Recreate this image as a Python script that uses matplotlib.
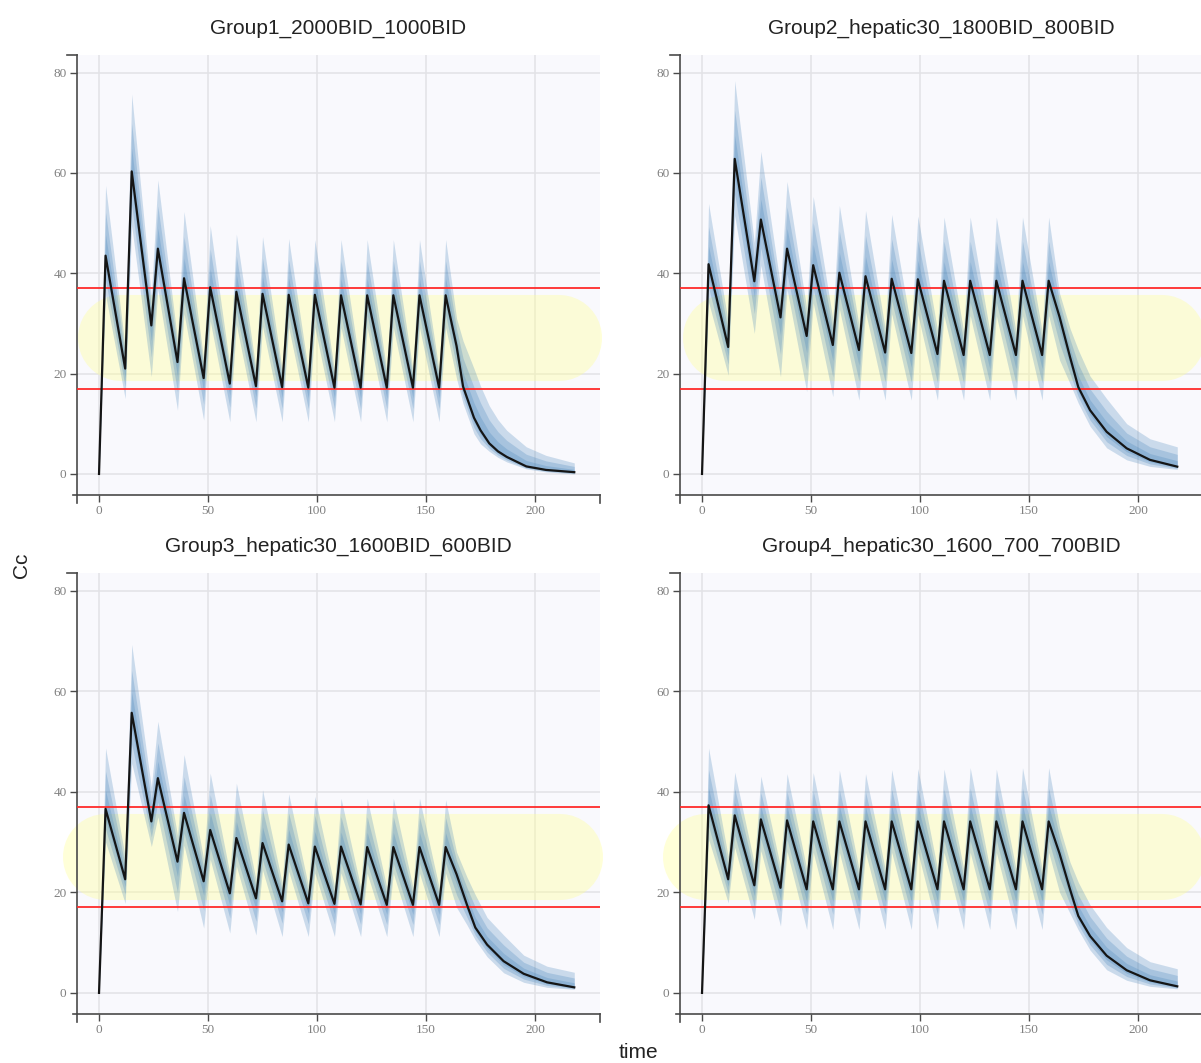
import numpy as np
import matplotlib.pyplot as plt

titles = ["Group1_2000BID_1000BID", "Group2_hepatic30_1800BID_800BID",
          "Group3_hepatic30_1600BID_600BID", "Group4_hepatic30_1600_700_700BID"]

dose_times = [0, 12, 24, 36, 48, 60, 72, 84, 96, 108, 120, 132, 144, 156]
tmax = 3

# median concentration at each peak (dose + tmax) and at each trough (next dose)
g1_peaks = [43.5, 60.3, 44.9, 39.0, 37.2, 36.3, 35.9, 35.7, 35.7, 35.6, 35.6, 35.6, 35.6, 35.6]
g1_troughs = [21.0, 29.6, 22.3, 19.1, 18.0, 17.5, 17.3, 17.2, 17.2, 17.2, 17.2, 17.2, 17.2]
g1_peak_hi = [57.5, 75.7, 58.6, 52.3, 49.5, 47.8, 47.3, 46.9, 46.7, 46.7, 46.7, 46.7, 46.7, 46.7]
g1_trough_lo = [15.0, 19.4, 12.7, 10.7, 10.4, 10.4, 10.4, 10.4, 10.4, 10.4, 10.4, 10.4, 10.4]
g1_tail_t = [164, 167, 172, 175, 179, 183, 187, 196, 205, 218]
g1_tail_med = [25.5, 17.4, 11.2, 8.7, 6.1, 4.5, 3.4, 1.5, 0.8, 0.35]
g1_tail_hi = [31.0, 26.5, 21.0, 17.5, 13.6, 10.8, 8.7, 5.4, 3.7, 2.2]
g1_tail_lo = [19.0, 14.0, 8.0, 6.0, 4.5, 3.3, 2.4, 1.0, 0.4, 0.0]

g2_peaks = [41.8, 62.8, 50.7, 44.9, 41.6, 40.1, 39.4, 38.9, 38.8, 38.5, 38.5, 38.5, 38.5, 38.5]
g2_troughs = [25.3, 38.4, 31.2, 27.5, 25.7, 24.7, 24.2, 24.1, 23.9, 23.7, 23.7, 23.7, 23.7]
g2_peak_hi = [53.9, 78.4, 64.3, 58.3, 55.3, 53.5, 52.5, 51.7, 51.4, 51.2, 51.2, 51.2, 51.2, 51.2]
g2_trough_lo = [19.7, 28.0, 19.4, 16.4, 15.4, 14.7, 14.7, 14.7, 14.7, 14.7, 14.7, 14.7, 14.7]
g2_tail_t = [164, 168.8, 172.6, 178, 185.6, 194.8, 205.5, 218]
g2_tail_med = [31.3, 23.3, 17.3, 12.7, 8.4, 5.1, 2.8, 1.45]
g2_tail_hi = [36.0, 29.0, 24.7, 19.5, 15.0, 10.0, 7.0, 5.4]
g2_tail_lo = [22.7, 18.0, 14.1, 9.5, 5.2, 2.8, 1.5, 0.9]

g3_peaks = [36.6, 55.7, 42.7, 35.8, 32.4, 30.8, 29.8, 29.5, 29.1, 29.1, 29.0, 29.0, 29.0, 29.0]
g3_troughs = [22.6, 34.1, 26.1, 22.2, 19.8, 18.8, 18.2, 17.8, 17.7, 17.6, 17.5, 17.5, 17.5]
g3_peak_hi = [48.7, 69.3, 54.0, 47.4, 43.7, 41.7, 40.4, 39.6, 39.1, 38.7, 38.7, 38.7, 38.7, 38.4]
g3_trough_lo = [17.8, 29.1, 16.2, 12.9, 11.9, 11.5, 11.2, 11.2, 11.2, 11.2, 11.2, 11.2, 11.2]
g3_tail_t = [164, 168.8, 172.6, 178, 185.6, 194.8, 205.5, 218]
g3_tail_med = [23.6, 17.5, 13.0, 9.6, 6.3, 3.8, 2.1, 1.1]
g3_tail_hi = [28.0, 23.0, 19.5, 15.0, 11.5, 7.5, 5.3, 4.1]
g3_tail_lo = [17.0, 13.5, 10.5, 7.2, 4.0, 2.1, 1.1, 0.7]

g4_peaks = [37.3, 35.3, 34.5, 34.3, 34.1, 34.1, 34.1, 34.1, 34.1, 34.1, 34.1, 34.1, 34.1, 34.1]
g4_troughs = [22.6, 21.4, 20.9, 20.6, 20.6, 20.6, 20.6, 20.6, 20.6, 20.6, 20.6, 20.6, 20.6]
g4_peak_hi = [48.7, 43.9, 43.1, 43.6, 43.8, 44.3, 43.6, 44.4, 44.6, 44.5, 44.8, 44.5, 44.8, 44.8]
g4_trough_lo = [17.9, 14.6, 13.3, 12.6, 12.6, 12.6, 12.6, 12.6, 12.6, 12.6, 12.6, 12.6, 12.6]
g4_tail_t = [164, 168.8, 172.6, 178, 185.6, 194.8, 205.5, 218]
g4_tail_med = [27.7, 20.6, 15.3, 11.3, 7.4, 4.5, 2.5, 1.3]
g4_tail_hi = [33.0, 26.0, 22.0, 17.5, 13.0, 9.0, 6.2, 4.8]
g4_tail_lo = [20.0, 15.8, 12.5, 8.5, 4.6, 2.5, 1.3, 0.8]

target_lo, target_hi = 17, 37
target_mid = 27
# where the yellow target strip starts / ends (time units)
strip_start = [10, 11, 3, 2]
strip_end = [211, 211, 211.5, 211]

groups = [
    (g1_peaks, g1_troughs, g1_peak_hi, g1_trough_lo, g1_tail_t, g1_tail_med, g1_tail_hi, g1_tail_lo),
    (g2_peaks, g2_troughs, g2_peak_hi, g2_trough_lo, g2_tail_t, g2_tail_med, g2_tail_hi, g2_tail_lo),
    (g3_peaks, g3_troughs, g3_peak_hi, g3_trough_lo, g3_tail_t, g3_tail_med, g3_tail_hi, g3_tail_lo),
    (g4_peaks, g4_troughs, g4_peak_hi, g4_trough_lo, g4_tail_t, g4_tail_med, g4_tail_hi, g4_tail_lo),
]


def build_profile(peaks, troughs, peak_hi, trough_lo, tail_t, tail_med, tail_hi, tail_lo):
    t, med, hi, lo = [0.0], [0.0], [0.0], [0.0]
    for i, d in enumerate(dose_times):
        t.append(d + tmax)
        med.append(peaks[i])
        hi.append(peak_hi[i])
        lo.append(peaks[i] * 0.82)
        if i < len(troughs):
            t.append(dose_times[i + 1])
            med.append(troughs[i])
            hi.append(troughs[i] * 1.2)
            lo.append(trough_lo[i])
    t += tail_t
    med += tail_med
    hi += tail_hi
    lo += tail_lo
    return np.array(t), np.array(med), np.array(hi), np.array(lo)


W, H = 1201, 1063
fig = plt.figure(figsize=(W / 100, H / 100), dpi=100)
boxes = [(77, 55, 523, 440), (680, 55, 523, 440), (77, 573, 523, 441), (680, 573, 523, 441)]
band_color = (0.25, 0.5, 0.72)
spine_color = "#4a4a4a"

for k, (x, y, w, h) in enumerate(boxes):
    ax = fig.add_axes([x / W, 1 - (y + h) / H, w / W, h / H])
    ax.set_facecolor("#f9f9fd")
    ax.set_xlim(-10.1, 229.8)
    ax.set_ylim(-4.2, 83.5)
    ax.set_xticks([0, 50, 100, 150, 200])
    ax.set_yticks([0, 20, 40, 60, 80])
    ax.grid(color="#e2e2e6", lw=1.1)
    ax.set_axisbelow(True)
    for s in ["top", "right"]:
        ax.spines[s].set_visible(False)
    for s in ["left", "bottom"]:
        ax.spines[s].set_color(spine_color)
        ax.spines[s].set_linewidth(1.2)
    ax.tick_params(direction="out", length=5, width=1, color=spine_color,
                   labelcolor="#808080", labelsize=9.5, pad=2.5)
    for lab in ax.get_xticklabels() + ax.get_yticklabels():
        lab.set_family("Liberation Serif")
    # spine end marks
    kw = dict(transform=ax.transAxes, color=spine_color, lw=1.2, clip_on=False)
    ax.plot([-10 / w, 0], [1, 1], **kw)
    ax.plot([0, 0], [-8 / h, 0], **kw)
    ax.plot([-4 / w, 0], [0, 0], **kw)
    ax.plot([1, 1], [-8 / h, 0], **kw)

    # target strip and limits
    ax.plot([strip_start[k], strip_end[k]], [target_mid, target_mid], color="#ffff99",
            alpha=0.38, lw=62, solid_capstyle="round", clip_on=False, zorder=1)
    ax.axhline(target_hi, color="#ff2a2a", lw=1.3, zorder=4)
    ax.axhline(target_lo, color="#ff2a2a", lw=1.3, zorder=4)

    t, med, hi, lo = build_profile(*groups[k])
    for f in [1.0, 0.62, 0.3]:
        ax.fill_between(t, med - f * (med - lo), med + f * (hi - med),
                        color=band_color, alpha=0.25, lw=0, zorder=2)
    ax.plot(t, med, color="#151515", lw=1.6, zorder=5)

    ax.set_title(titles[k], fontsize=15, color="#222222", pad=15, family="Liberation Sans")

fig.text(22 / W, 1 - 565 / H, "Cc", rotation=90, ha="center", va="center",
         fontsize=15, color="#222222", family="Liberation Sans")
fig.text(638 / W, 1 - 1052 / H, "time", ha="center", va="center",
         fontsize=15, color="#222222", family="Liberation Sans")

fig.savefig("out.png", dpi=100)
